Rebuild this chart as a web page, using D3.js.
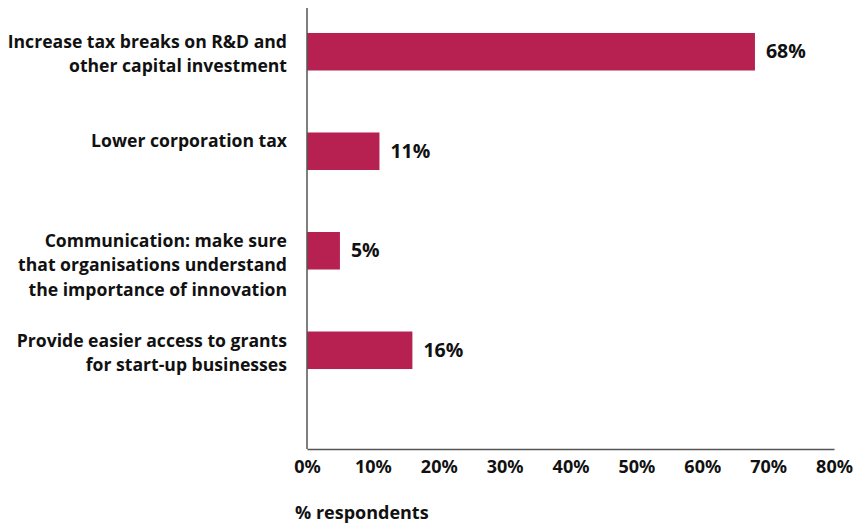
<!DOCTYPE html>
<html>
<head>
<meta charset="utf-8">
<script src="https://cdn.jsdelivr.net/npm/d3@7"></script>
<style>
  body { margin: 0; background: #fff; }
  svg text { font-family: "Open Sans", Lato, sans-serif; font-weight: bold; fill: #111; }
  .ticks text { font-variant-numeric: oldstyle-nums; font-feature-settings: "onum" 1; }
</style>
</head>
<body>
<div id="chart"></div>
<script>
// data
const categories = [
    "Increase tax breaks on R&D and\nother capital investment",
    "Lower corporation tax",
    "Communication: make sure\nthat organisations understand\nthe importance of innovation",
    "Provide easier access to grants\nfor start-up businesses"
];
const values = [68, 11, 5, 16];
const xTicks = [0, 10, 20, 30, 40, 50, 60, 70, 80];
const xTitle = "% respondents";

const width = 857, height = 525;
const plotTop = 8, plotBottom = 449;

const svg = d3.select("#chart")
    .append("svg")
    .attr("width", width)
    .attr("height", height);

// X-Scale
const x = d3.scaleLinear()
    .domain([0, 80])
    .range([307, 834]);

// Y-Scale
const y = d3.scaleBand()
    .domain(categories)
    .range([plotTop, 394])
    .paddingInner(0.623)
    .paddingOuter(0.251);

// bars
svg.selectAll("rect.bar")
    .data(values)
    .join("rect")
    .attr("class", "bar")
    .attr("x", x(0))
    .attr("y", (d, i) => y(categories[i]))
    .attr("width", d => x(d) - x(0))
    .attr("height", y.bandwidth())
    .attr("fill", "#b72152");

// value labels
svg.selectAll("text.value")
    .data(values)
    .join("text")
    .attr("class", "value")
    .attr("x", d => x(d) + 11)
    .attr("y", (d, i) => y(categories[i]) + y.bandwidth() / 2 - 1)
    .attr("dominant-baseline", "central")
    .style("font-size", "19.5px")
    .text(d => d + "%");

// category labels (multi-line, right aligned)
const cat = svg.selectAll("text.cat")
    .data(categories)
    .join("text")
    .attr("class", "cat")
    .attr("text-anchor", "end")
    .style("font-size", "17.6px");
cat.each(function (d) {
    const lines = d.split("\n");
    const t = d3.select(this);
    lines.forEach((line, j) => {
        t.append("tspan")
            .attr("x", 287)
            .attr("y", y(d) + 8 + j * 24.5)
            .attr("dominant-baseline", "central")
            .text(line);
    });
});

// X-axis
const xAxis = svg.append("g")
    .attr("transform", `translate(0,${plotBottom})`)
    .call(d3.axisBottom(x)
        .tickValues(xTicks)
        .tickFormat(d => d + "%")
        .tickSize(0)
        .tickPadding(11)
        .tickSizeOuter(0));
xAxis.select(".domain").attr("stroke", "#555").attr("stroke-width", 1.5);
xAxis.selectAll("text")
    .style("font-size", "18px")
    .style("font-family", "'Noto Sans', 'Open Sans', sans-serif")
    .attr("fill", "#111");

// Y-axis line
svg.append("line")
    .attr("x1", x(0))
    .attr("x2", x(0))
    .attr("y1", plotTop)
    .attr("y2", plotBottom)
    .attr("stroke", "#555")
    .attr("stroke-width", 1.5);

// axis title
svg.append("text")
    .attr("x", 295)
    .attr("y", 512)
    .attr("dominant-baseline", "central")
    .style("font-size", "18px")
    .text(xTitle);
</script>
</body>
</html>
